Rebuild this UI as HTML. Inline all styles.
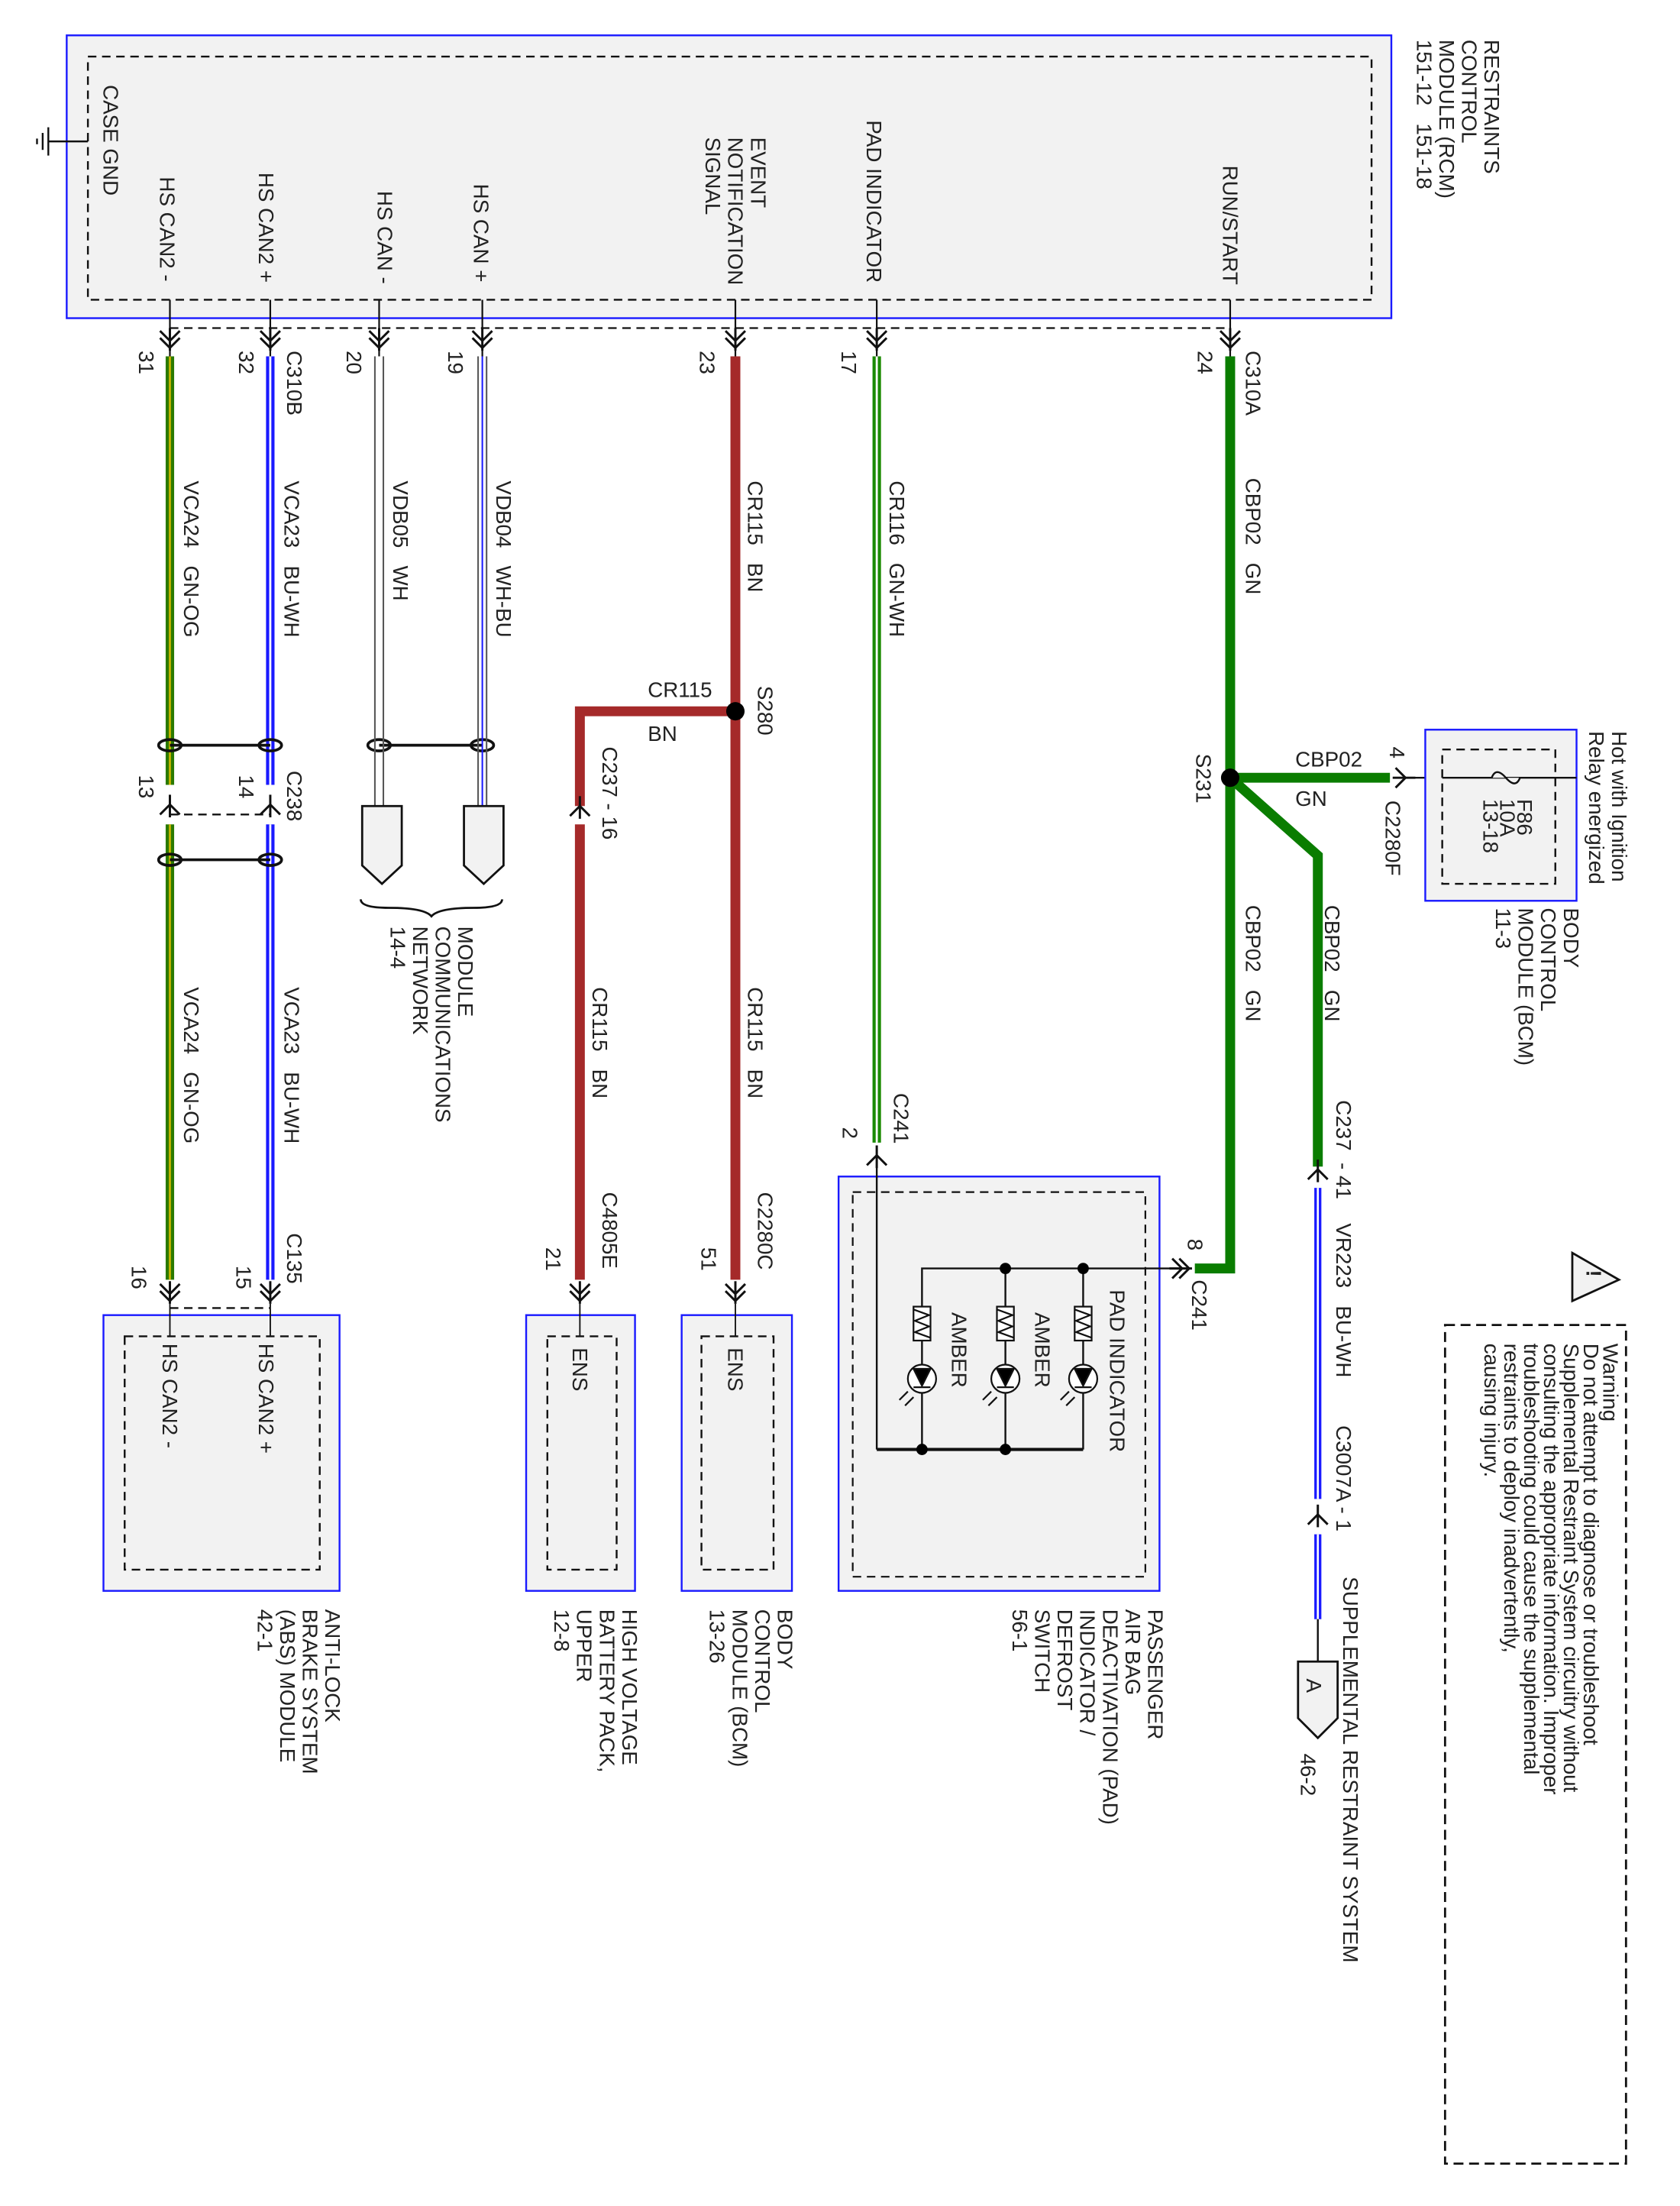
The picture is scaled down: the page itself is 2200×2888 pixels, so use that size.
<!DOCTYPE html>
<html><head><meta charset="utf-8"><style>
html,body{margin:0;padding:0;background:#fff}
svg{display:block}
text{font-family:"Liberation Sans",sans-serif;font-size:15px;fill:#222}
</style></head><body>
<svg width="2200" height="2888" viewBox="0 0 1188 1560" xmlns="http://www.w3.org/2000/svg">
<defs>
<g id="cd" fill="none" stroke="#111" stroke-width="1.6"><path d="M-7,-6 L0,1 L7,-6 M-7,-1 L0,6 L7,-1"/><path d="M0,-8 V8"/></g>
<g id="cu" fill="none" stroke="#111" stroke-width="1.6"><path d="M-7,6 L0,-1 L7,6"/><path d="M0,-8 V8"/></g>
</defs>

<!-- RCM -->
<rect x="47" y="25" width="937" height="200" fill="#f2f2f2" stroke="#1a1aff" stroke-width="1.3"/>
<rect x="62" y="40" width="908" height="172" fill="none" stroke="#111" stroke-width="1.3" stroke-dasharray="6,4"/>
<line x1="120" y1="232" x2="870" y2="232" stroke="#111" stroke-width="1.2" stroke-dasharray="6,4"/>
<g stroke="#111" stroke-width="1.3"><line x1="34" y1="100" x2="62" y2="100"/><line x1="34" y1="90" x2="34" y2="110"/><line x1="30" y1="94" x2="30" y2="106"/><line x1="26" y1="98" x2="26" y2="102"/></g>
<text transform="translate(1050,28) rotate(90)">RESTRAINTS</text>
<text transform="translate(1034,28) rotate(90)">CONTROL</text>
<text transform="translate(1018,28) rotate(90)">MODULE (RCM)</text>
<text transform="translate(1002,28) rotate(90)">151-12&#160;&#160;&#160;151-18</text>
<text transform="translate(73,60) rotate(90)">CASE GND</text>
<text transform="translate(113,125) rotate(90)">HS CAN2 -</text>
<text transform="translate(183,122) rotate(90)">HS CAN2 +</text>
<text transform="translate(267,135) rotate(90)">HS CAN -</text>
<text transform="translate(335,130) rotate(90)">HS CAN +</text>
<text transform="translate(531,97) rotate(90)">EVENT</text>
<text transform="translate(515,97) rotate(90)">NOTIFICATION</text>
<text transform="translate(499,97) rotate(90)">SIGNAL</text>
<text transform="translate(613,85) rotate(90)">PAD INDICATOR</text>
<text transform="translate(865,117) rotate(90)">RUN/START</text>
<g stroke="#111" stroke-width="1.2">
<line x1="120" y1="212" x2="120" y2="252"/><line x1="191" y1="212" x2="191" y2="252"/><line x1="268" y1="212" x2="268" y2="252"/><line x1="341" y1="212" x2="341" y2="252"/><line x1="520" y1="212" x2="520" y2="252"/><line x1="620" y1="212" x2="620" y2="252"/><line x1="870" y1="212" x2="870" y2="252"/>
</g>
<use href="#cd" x="120" y="240"/><use href="#cd" x="191" y="240"/><use href="#cd" x="268" y="240"/><use href="#cd" x="341" y="240"/><use href="#cd" x="520" y="240"/><use href="#cd" x="620" y="240"/><use href="#cd" x="870" y="240"/>
<text transform="translate(98,248) rotate(90)">31</text>
<text transform="translate(169,248) rotate(90)">32</text>
<text transform="translate(245,248) rotate(90)">20</text>
<text transform="translate(317,248) rotate(90)">19</text>
<text transform="translate(495,248) rotate(90)">23</text>
<text transform="translate(595,248) rotate(90)">17</text>
<text transform="translate(847,248) rotate(90)">24</text>
<text transform="translate(203,248) rotate(90)">C310B</text>
<text transform="translate(881,248) rotate(90)">C310A</text>

<!-- CAN2 wires -->
<g>
<line x1="120" y1="252" x2="120" y2="555" stroke="#2a7a00" stroke-width="6"/><line x1="120" y1="252" x2="120" y2="555" stroke="#c8b400" stroke-width="1.5"/>
<line x1="120" y1="583" x2="120" y2="905" stroke="#2a7a00" stroke-width="6"/><line x1="120" y1="583" x2="120" y2="905" stroke="#c8b400" stroke-width="1.5"/>
<line x1="191" y1="252" x2="191" y2="555" stroke="#1a1aff" stroke-width="6"/><line x1="191" y1="252" x2="191" y2="555" stroke="#fff" stroke-width="1.5"/>
<line x1="191" y1="583" x2="191" y2="905" stroke="#1a1aff" stroke-width="6"/><line x1="191" y1="583" x2="191" y2="905" stroke="#fff" stroke-width="1.5"/>
</g>
<g fill="none" stroke="#111" stroke-width="2">
<line x1="120" y1="527" x2="191" y2="527"/><ellipse cx="120" cy="527" rx="8" ry="4"/><ellipse cx="191" cy="527" rx="8" ry="4"/>
<line x1="120" y1="608" x2="191" y2="608"/><ellipse cx="120" cy="608" rx="8" ry="4"/><ellipse cx="191" cy="608" rx="8" ry="4"/>
<line x1="268" y1="527" x2="341" y2="527"/><ellipse cx="268" cy="527" rx="8" ry="4"/><ellipse cx="341" cy="527" rx="8" ry="4"/>
</g>
<line x1="120" y1="576" x2="191" y2="576" stroke="#111" stroke-width="1.3" stroke-dasharray="6,4"/>
<use href="#cu" x="120" y="570"/><use href="#cu" x="191" y="570"/>
<text transform="translate(98,548) rotate(90)">13</text>
<text transform="translate(169,548) rotate(90)">14</text>
<text transform="translate(203,545) rotate(90)">C238</text>
<text transform="translate(130,340) rotate(90)">VCA24&#160;&#160;&#160;GN-OG</text>
<text transform="translate(201,340) rotate(90)">VCA23&#160;&#160;&#160;BU-WH</text>
<text transform="translate(130,698) rotate(90)">VCA24&#160;&#160;&#160;GN-OG</text>
<text transform="translate(201,698) rotate(90)">VCA23&#160;&#160;&#160;BU-WH</text>
<use href="#cd" x="120" y="914"/><use href="#cd" x="191" y="914"/>
<line x1="120" y1="925" x2="191" y2="925" stroke="#111" stroke-width="1.3" stroke-dasharray="6,4"/>
<text transform="translate(93,895) rotate(90)">16</text>
<text transform="translate(167,895) rotate(90)">15</text>
<text transform="translate(203,872) rotate(90)">C135</text>
<rect x="73" y="930" width="167" height="195" fill="#f2f2f2" stroke="#1a1aff" stroke-width="1.3"/>
<rect x="88" y="945" width="138" height="165" fill="none" stroke="#111" stroke-width="1.3" stroke-dasharray="6,4"/>
<line x1="120" y1="922" x2="120" y2="945" stroke="#111"/><line x1="191" y1="922" x2="191" y2="945" stroke="#111"/>
<text transform="translate(115,950) rotate(90)">HS CAN2 -</text>
<text transform="translate(183,950) rotate(90)">HS CAN2 +</text>
<text transform="translate(230,1138) rotate(90)">ANTI-LOCK</text>
<text transform="translate(214,1138) rotate(90)">BRAKE SYSTEM</text>
<text transform="translate(198,1138) rotate(90)">(ABS) MODULE</text>
<text transform="translate(182,1138) rotate(90)">42-1</text>

<!-- HS CAN wires -->
<g stroke-width="1.1">
<line x1="265" y1="252" x2="265" y2="570" stroke="#555"/><line x1="271" y1="252" x2="271" y2="570" stroke="#555"/>
<line x1="338" y1="252" x2="338" y2="570" stroke="#555"/><line x1="344" y1="252" x2="344" y2="570" stroke="#555"/><line x1="341" y1="252" x2="341" y2="570" stroke="#1a1aff"/>
</g>
<path d="M256,570 H284 V612 L270,625 L256,612 Z" fill="#f2f2f2" stroke="#111" stroke-width="1.5"/>
<path d="M328,570 H356 V612 L342,625 L328,612 Z" fill="#f2f2f2" stroke="#111" stroke-width="1.5"/>
<path d="M255,636 Q255,642 275,642 Q300,642 305,648 Q310,642 335,642 Q355,642 355,636" fill="none" stroke="#111" stroke-width="1.5"/>
<text transform="translate(324,655) rotate(90)">MODULE</text>
<text transform="translate(308,655) rotate(90)">COMMUNICATIONS</text>
<text transform="translate(292,655) rotate(90)">NETWORK</text>
<text transform="translate(276,655) rotate(90)">14-4</text>
<text transform="translate(278,340) rotate(90)">VDB05&#160;&#160;&#160;WH</text>
<text transform="translate(351,340) rotate(90)">VDB04&#160;&#160;&#160;WH-BU</text>

<!-- CR115 -->
<g stroke="#a52a2a" stroke-width="7" fill="none">
<line x1="520" y1="252" x2="520" y2="905"/>
<path d="M520,503 H410 V570"/>
<line x1="410" y1="583" x2="410" y2="905"/>
</g>
<circle cx="520" cy="503" r="6.5" fill="#000"/>
<use href="#cu" x="410" y="571"/>
<text transform="translate(536,485) rotate(90)">S280</text>
<text x="458" y="493">CR115</text>
<text x="458" y="524">BN</text>
<text transform="translate(426,528) rotate(90)">C237 - 16</text>
<text transform="translate(529,340) rotate(90)">CR115&#160;&#160;&#160;BN</text>
<text transform="translate(529,698) rotate(90)">CR115&#160;&#160;&#160;BN</text>
<text transform="translate(419,698) rotate(90)">CR115&#160;&#160;&#160;BN</text>
<text transform="translate(426,843) rotate(90)">C4805E</text>
<text transform="translate(386,882) rotate(90)">21</text>
<text transform="translate(536,843) rotate(90)">C2280C</text>
<text transform="translate(496,882) rotate(90)">51</text>
<use href="#cd" x="410" y="914"/><use href="#cd" x="520" y="914"/>
<rect x="372" y="930" width="77" height="195" fill="#f2f2f2" stroke="#1a1aff" stroke-width="1.3"/>
<rect x="387" y="945" width="49" height="165" fill="none" stroke="#111" stroke-width="1.3" stroke-dasharray="6,4"/>
<rect x="482" y="930" width="78" height="195" fill="#f2f2f2" stroke="#1a1aff" stroke-width="1.3"/>
<rect x="496" y="945" width="51" height="165" fill="none" stroke="#111" stroke-width="1.3" stroke-dasharray="6,4"/>
<line x1="410" y1="922" x2="410" y2="945" stroke="#111"/><line x1="520" y1="922" x2="520" y2="945" stroke="#111"/>
<text transform="translate(405,953) rotate(90)">ENS</text>
<text transform="translate(515,953) rotate(90)">ENS</text>
<text transform="translate(440,1138) rotate(90)">HIGH VOLTAGE</text>
<text transform="translate(424,1138) rotate(90)">BATTERY PACK,</text>
<text transform="translate(408,1138) rotate(90)">UPPER</text>
<text transform="translate(392,1138) rotate(90)">12-8</text>
<text transform="translate(550,1138) rotate(90)">BODY</text>
<text transform="translate(534,1138) rotate(90)">CONTROL</text>
<text transform="translate(518,1138) rotate(90)">MODULE (BCM)</text>
<text transform="translate(502,1138) rotate(90)">13-26</text>

<!-- CR116 -->
<line x1="620" y1="252" x2="620" y2="808" stroke="#1a8a00" stroke-width="6"/>
<line x1="620" y1="252" x2="620" y2="808" stroke="#fff" stroke-width="1.5"/>
<text transform="translate(629,340) rotate(90)">CR116&#160;&#160;&#160;GN-WH</text>
<text transform="translate(632,773) rotate(90)">C241</text>
<text transform="translate(596,797) rotate(90)">2</text>
<use href="#cu" x="620" y="818"/>

<!-- PAD box -->
<rect x="593" y="832" width="227" height="293" fill="#f2f2f2" stroke="#1a1aff" stroke-width="1.3"/>
<rect x="603" y="843" width="207" height="272" fill="none" stroke="#111" stroke-width="1.2" stroke-dasharray="6,4"/>
<g stroke="#111" stroke-width="1.3" fill="none">
<line x1="620" y1="810" x2="620" y2="1025"/>
<path d="M652,1025 V897 H840"/>
<line x1="711" y1="897" x2="711" y2="1025"/>
<line x1="766" y1="897" x2="766" y2="1025"/>
<line x1="620" y1="1025" x2="766" y2="1025" stroke-width="2.2"/>
</g>
<g fill="#000"><circle cx="711" cy="897" r="4"/><circle cx="766" cy="897" r="4"/><circle cx="652" cy="1025" r="4"/><circle cx="711" cy="1025" r="4"/></g>
<g stroke="#111" stroke-width="1.2">
<g transform="translate(652,0)"><rect x="-6" y="924" width="12" height="24" fill="#fff"/><path d="M-6,926 L5,930 L-5,934 L5,938 L-5,942 L6,946" fill="none"/><circle cx="0" cy="975" r="10" fill="#fff"/><path d="M-6,968 H6 L0,980 Z" fill="#000"/><line x1="-6" y1="981" x2="6" y2="981"/><path d="M-10,984 l-6,6 M-6,988 l-6,6" fill="none"/></g>
<g transform="translate(711,0)"><rect x="-6" y="924" width="12" height="24" fill="#fff"/><path d="M-6,926 L5,930 L-5,934 L5,938 L-5,942 L6,946" fill="none"/><circle cx="0" cy="975" r="10" fill="#fff"/><path d="M-6,968 H6 L0,980 Z" fill="#000"/><line x1="-6" y1="981" x2="6" y2="981"/><path d="M-10,984 l-6,6 M-6,988 l-6,6" fill="none"/></g>
<g transform="translate(766,0)"><rect x="-6" y="924" width="12" height="24" fill="#fff"/><path d="M-6,926 L5,930 L-5,934 L5,938 L-5,942 L6,946" fill="none"/><circle cx="0" cy="975" r="10" fill="#fff"/><path d="M-6,968 H6 L0,980 Z" fill="#000"/><line x1="-6" y1="981" x2="6" y2="981"/><path d="M-10,984 l-6,6 M-6,988 l-6,6" fill="none"/></g>
</g>
<text transform="translate(673,928) rotate(90)">AMBER</text>
<text transform="translate(732,928) rotate(90)">AMBER</text>
<text transform="translate(785,912) rotate(90)">PAD INDICATOR</text>
<text transform="translate(812,1138) rotate(90)">PASSENGER</text>
<text transform="translate(796,1138) rotate(90)">AIR BAG</text>
<text transform="translate(780,1138) rotate(90)">DEACTIVATION (PAD)</text>
<text transform="translate(764,1138) rotate(90)">INDICATOR /</text>
<text transform="translate(748,1138) rotate(90)">DEFROST</text>
<text transform="translate(732,1138) rotate(90)">SWITCH</text>
<text transform="translate(716,1138) rotate(90)">56-1</text>
<g transform="translate(835,897) rotate(-90)"><use href="#cd"/></g>

<!-- CBP02 -->
<g stroke="#0a7d00" stroke-width="7" fill="none" stroke-linejoin="miter">
<path d="M870,252 V897 H845"/>
<line x1="870" y1="550" x2="983" y2="550"/>
<path d="M870,550 L932,605 V825"/>
</g>
<circle cx="870" cy="550" r="6.5" fill="#000"/>
<text transform="translate(846,533) rotate(90)">S231</text>
<text x="916" y="542">CBP02</text>
<text x="916" y="570">GN</text>
<text transform="translate(881,338) rotate(90)">CBP02&#160;&#160;&#160;GN</text>
<text transform="translate(881,640) rotate(90)">CBP02&#160;&#160;&#160;GN</text>
<text transform="translate(937,640) rotate(90)">CBP02&#160;&#160;&#160;GN</text>
<text transform="translate(840,876) rotate(90)">8</text>
<text transform="translate(843,905) rotate(90)">C241</text>
<text transform="translate(945,778) rotate(90)">C237&#160; - 41</text>
<use href="#cu" x="932" y="828"/>
<line x1="932" y1="840" x2="932" y2="1060" stroke="#1a1aff" stroke-width="5"/><line x1="932" y1="840" x2="932" y2="1060" stroke="#fff" stroke-width="1.4"/>
<text transform="translate(945,865) rotate(90)">VR223&#160;&#160;&#160;BU-WH</text>
<text transform="translate(945,1008) rotate(90)">C3007A - 1</text>
<use href="#cu" x="932" y="1072"/>
<line x1="932" y1="1085" x2="932" y2="1145" stroke="#1a1aff" stroke-width="5"/><line x1="932" y1="1085" x2="932" y2="1145" stroke="#fff" stroke-width="1.4"/>
<line x1="932" y1="1145" x2="932" y2="1175" stroke="#111" stroke-width="1.3"/>
<path d="M918,1175 H946 V1215 L932,1229 L918,1215 Z" fill="#f2f2f2" stroke="#111" stroke-width="1.5"/>
<text transform="translate(924,1187) rotate(90)">A</text>
<text transform="translate(920,1240) rotate(90)">46-2</text>
<text transform="translate(950,1115) rotate(90)">SUPPLEMENTAL RESTRAINT SYSTEM</text>

<!-- top right BCM -->
<line x1="985" y1="550" x2="1115" y2="550" stroke="#111" stroke-width="1.3"/>
<g transform="translate(993,550) rotate(90)"><use href="#cu"/></g>
<text transform="translate(983,528) rotate(90)">4</text>
<text transform="translate(980,566) rotate(90)">C2280F</text>
<rect x="1008" y="516" width="107" height="121" fill="#f2f2f2" stroke="#1a1aff" stroke-width="1.3"/>
<rect x="1020" y="530" width="80" height="95" fill="none" stroke="#111" stroke-width="1.3" stroke-dasharray="6,4"/>
<line x1="1020" y1="550" x2="1115" y2="550" stroke="#111" stroke-width="1.3"/>
<path d="M1055,550 Q1058,542 1065,550 Q1072,558 1075,550" fill="#f2f2f2" stroke="#111" stroke-width="1.3"/>
<text transform="translate(1073,565) rotate(90)">F86</text>
<text transform="translate(1061,565) rotate(90)">10A</text>
<text transform="translate(1049,565) rotate(90)">13-18</text>
<text transform="translate(1140,517) rotate(90)">Hot with Ignition</text>
<text transform="translate(1124,517) rotate(90)">Relay energized</text>
<text transform="translate(1106,642) rotate(90)">BODY</text>
<text transform="translate(1090,642) rotate(90)">CONTROL</text>
<text transform="translate(1074,642) rotate(90)">MODULE (BCM)</text>
<text transform="translate(1058,642) rotate(90)">11-3</text>

<!-- warning -->
<path d="M1112,886 L1145,905 L1112,920 Z" fill="#f2f2f2" stroke="#111" stroke-width="1.5"/>
<text transform="translate(1122,898) rotate(90)" style="font-weight:bold">!</text>
<rect x="1022" y="937" width="128" height="593" fill="none" stroke="#111" stroke-width="1.5" stroke-dasharray="7,4"/>
<g style="font-size:13.5px">
<text transform="translate(1134,950) rotate(90)">Warning</text>
<text transform="translate(1120,950) rotate(90)">Do not attempt to diagnose or troubleshoot</text>
<text transform="translate(1106,950) rotate(90)">Supplemental Restraint System circuitry without</text>
<text transform="translate(1092,950) rotate(90)">consulting the appropriate information. Improper</text>
<text transform="translate(1078,950) rotate(90)">troubleshooting could cause the supplemental</text>
<text transform="translate(1064,950) rotate(90)">restraints to deploy inadvertently,</text>
<text transform="translate(1050,950) rotate(90)">causing injury.</text>
</g>
</svg>
</body></html>
